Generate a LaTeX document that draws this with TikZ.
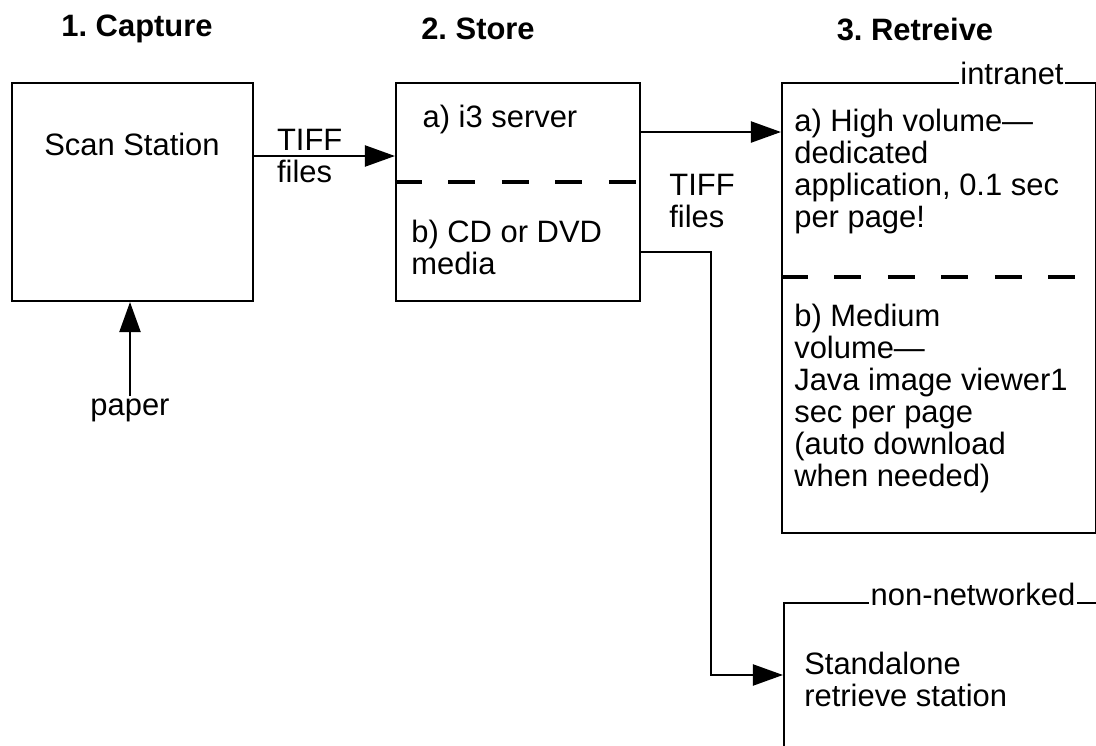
\documentclass[tikz,border=0pt]{standalone}
\usepackage{fontspec}
\setmainfont{Liberation Sans}
\usetikzlibrary{arrows.meta,positioning}
\frenchspacing

\begin{document}
\begin{tikzpicture}[
  x=0.02cm, y=-0.02cm,
  >={Triangle[length=0.6cm,width=0.42cm]},
  every node/.style={font=\fontsize{17.6}{18.2}\selectfont},
  box/.style={draw, line width=1.2pt, inner sep=0pt},
  head/.style={font=\fontsize{17.6}{18.2}\selectfont\bfseries},
  txt/.style={align=left, inner sep=0pt},
  tag/.style={fill=white, inner sep=1pt, anchor=base},
  split/.style={line width=2pt, dash pattern=on 0.54cm off 0.53cm},
  arr/.style={->, line width=1.2pt}
]
\useasboundingbox (0,0) rectangle (1096,746);
\clip (0,0) rectangle (1096,746);

% column headings
\node[head] (hcapture) at (137,29) {1. Capture};
\node[head] (hstore) at (478,29) {2. Store};
\node[head] (hretrieve) at (915,29) {3. Retreive};

% boxes
\node[box, minimum width=4.82cm, minimum height=4.36cm] (scan) at (132.5,192) {};
\node[box, minimum width=4.88cm, minimum height=4.36cm] (store) at (518,192) {};
\node[box, minimum width=6.28cm, minimum height=9cm] (intra) at (939,308) {};
\node[box, minimum width=6.28cm, minimum height=2.88cm] (stand) at (941,675) {};

\draw[split] ([yshift=0.2cm]store.west) -- ([yshift=0.2cm]store.east);
\draw[split] ([yshift=0.62cm]intra.west) -- ([yshift=0.62cm]intra.east);

\node[tag] (tintra) at (1012,85) {intranet};
\node[tag] (tstand) at (973,605) {non-networked};

% texts in the boxes
\node (scantxt) at (132,144) {Scan Station};
\node (servtxt) at (500,120) {a) i3 server};
\node[txt, anchor=north west, below right=2.75cm and 0.32cm of store.north west] (mediatxt) {b) CD or DVD\\media};
\node[txt, anchor=north west, below right=0.53cm and 0.26cm of intra.north west] (hightxt) {a) High volume---\\dedicated\\application, 0.1 sec\\per page!};
\node[txt, anchor=north west, below right=4.43cm and 0.26cm of intra.north west] (medtxt) {b) Medium\\volume---\\Java image viewer1\\sec per page\\(auto download\\when needed)};
\node[txt, anchor=north west, below right=0.99cm and 0.42cm of stand.north west] (standtxt) {Standalone\\retrieve station};

% connectors
\node[inner sep=1pt] (paper) at (130,410) {paper};
\draw[arr] (paper.north) -- (paper.north |- scan.south);

\draw[arr] ([yshift=0.72cm]scan.east) -- node[txt, pos=0, anchor=west, xshift=0.44cm] (tiff1) {TIFF\\files} ([yshift=0.72cm]store.west);
\draw[arr] ([yshift=1.2cm]store.east) -- ([yshift=1.2cm]store.east -| intra.west);
\draw[arr] ([yshift=-1.2cm]store.east) -- ++(70,0) |- (stand.west);
\node[txt, right=0.56cm of store.east, yshift=-0.18cm] (tiff2) {TIFF\\files};
\end{tikzpicture}
\end{document}
